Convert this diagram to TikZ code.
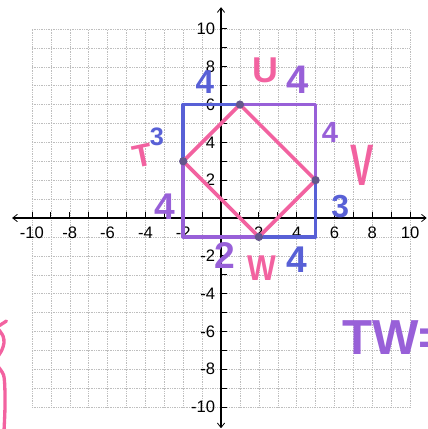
\documentclass[tikz,border=0pt]{standalone}
\usepackage{fontspec}
\setmainfont{Liberation Sans}
\usetikzlibrary{arrows.meta}
\definecolor{blueM}{RGB}{88,96,214}
\definecolor{purpM}{RGB}{152,96,216}
\definecolor{pinkM}{RGB}{242,98,160}
\definecolor{dotM}{RGB}{100,86,140}
\definecolor{gridM}{RGB}{190,190,190}
\tikzset{
  gridline/.style={gridM, dotted, line width=0.6pt},
  axisline/.style={black, line width=1.6pt, {Straight Barb[length=7pt,width=11pt,line width=1.2pt]}-{Straight Barb[length=7pt,width=11pt,line width=1.2pt]}},
  tickline/.style={black, line width=1.3pt},
  axlab/.style={inner sep=0pt, font=\fontsize{25}{25}\selectfont},
  rectblue/.style={blueM, line width=5.5pt, line cap=round, line join=round},
  rectpurp/.style={purpM, line width=5.5pt, line cap=round, line join=round},
  pinkside/.style={pinkM, line width=5.5pt, line cap=round},
  vdot/.style={circle, fill=dotM, inner sep=0pt, minimum size=0.44cm},
  hw/.style={inner sep=0pt},
}
\begin{document}
\begin{tikzpicture}
\useasboundingbox (-11.69,-11.16) rectangle (10.90,11.53);
\clip (-11.69,-11.16) rectangle (10.90,11.53);
% grid
\draw[gridline] (-10,-10) grid (10,10);
% axes
\coordinate (xl) at (-11.05,0);
\coordinate (xr) at (10.88,0);
\coordinate (yb) at (0,-11.12);
\coordinate (yt) at (0,11.15);
\draw[axisline] (xl) -- (xr);
\draw[axisline] (yb) -- (yt);
\foreach \i in {-10,...,10}{
  \draw[tickline] (\i,0) -- (\i,0.3);
  \draw[tickline] (0,\i) -- (0.3,\i);
}
\foreach \i in {-10,-8,-6,-4,-2,2,4,6,8,10}{
  \node[axlab] (xlab\i) at (\i,-0.8) {\ifnum\i<0 -\number-\i\else\i\fi};
  \node[axlab, anchor=east] (ylab\i) at (-0.3,\i) {\ifnum\i<0 -\number-\i\else\i\fi};
}
% rectangle corners and square vertices
\coordinate (A) at (-2,6);
\coordinate (B) at (5,6);
\coordinate (C) at (5,-1);
\coordinate (D) at (-2,-1);
\coordinate (T) at (-2,3);
\coordinate (U) at (1,6);
\coordinate (V) at (5,2);
\coordinate (W) at (2,-1);
% rectangle sides
\draw[rectblue] (T) -- (A) -- (U);
\draw[rectpurp] (U) -- (B) -- (V);
\draw[rectblue] (V) -- (C) -- (W);
\draw[rectpurp] (W) -- (D) -- (T);
% pink square
\draw[pinkside] (T) -- (U);
\draw[pinkside] (U) -- (V);
\draw[pinkside] (V) -- (W);
\draw[pinkside] (W) -- (T);
% dots
\node[vdot] (dT) at (T) {};
\node[vdot] (dU) at (U) {};
\node[vdot] (dV) at (V) {};
\node[vdot] (dW) at (W) {};
% handwritten labels
\node[hw, pinkM, rotate=12, font=\bfseries\fontsize{48}{48}\selectfont] (lT) at (-4.13,3.3) {T};
\node[hw, blueM, font=\bfseries\fontsize{38}{38}\selectfont] (l3a) at (-3.39,4.29) {3};
\node[hw, blueM, font=\bfseries\fontsize{50}{50}\selectfont] (l4a) at (-0.85,7.2) {4};
\node[hw, pinkM, font=\bfseries\fontsize{54}{54}\selectfont] (lU) at (2.33,7.83) {U};
\node[hw, purpM, font=\bfseries\fontsize{60}{60}\selectfont] (l4b) at (4.07,7.3) {4};
\node[hw, purpM, font=\bfseries\fontsize{44}{44}\selectfont] (l4c) at (5.77,4.5) {4};
\node[hw, pinkM, xscale=0.6, font=\bfseries\fontsize{88}{88}\selectfont] (lV) at (7.46,2.8) {V};
\node[hw, blueM, font=\bfseries\fontsize{48}{48}\selectfont] (l3b) at (6.3,0.6) {3};
\node[hw, purpM, font=\bfseries\fontsize{56}{56}\selectfont] (l4d) at (-2.96,0.58) {4};
\node[hw, purpM, font=\bfseries\fontsize{56}{56}\selectfont] (l2) at (0.21,-1.96) {2};
\node[hw, pinkM, xscale=0.85, font=\bfseries\fontsize{54}{54}\selectfont] (lW) at (2.17,-2.65) {W};
\node[hw, blueM, font=\bfseries\fontsize{56}{56}\selectfont] (l4e) at (4.02,-2.22) {4};
\node[hw, purpM, anchor=west, font=\bfseries\fontsize{74}{74}\selectfont] (lTW) at (6.4,-6.35) {TW=};
% cut-off pink strokes at left edge
\draw[pinkM, line width=5pt, line cap=round] (-11.35,-5.45) -- (-11.8,-5.74);
\draw[pinkM, line width=5pt, line cap=round] plot[smooth] coordinates {(-11.8,-5.85) (-11.53,-6.24) (-11.48,-6.61) (-11.59,-6.98) (-11.8,-7.32)};
\draw[pinkM, line width=5pt, line cap=round] plot[smooth] coordinates {(-11.8,-7.85) (-11.5,-8.31) (-11.43,-9.1) (-11.43,-10.16) (-11.48,-11.3)};
\end{tikzpicture}
\end{document}
